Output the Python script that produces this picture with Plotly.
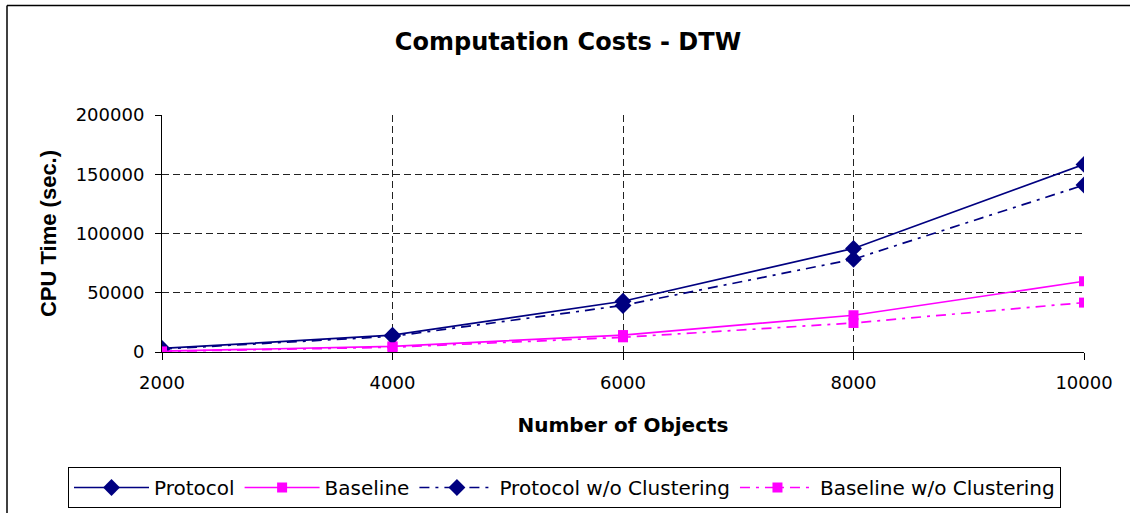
import plotly.graph_objects as go

objects = [2000, 4000, 6000, 8000, 10000]
protocol = [3000, 14200, 42800, 87400, 158300]
baseline = [700, 4800, 14300, 31000, 59700]
protocol_noclust = [2500, 13200, 39300, 78300, 140900]
baseline_noclust = [500, 4000, 12400, 24500, 41700]

x_ticks = [2000, 4000, 6000, 8000, 10000]
y_ticks = [0, 50000, 100000, 150000, 200000]

NAVY = "#000080"
MAG = "#FF00FF"
FONT = "DejaVu Sans, Liberation Sans, Arial, sans-serif"
FONT_Y = "Liberation Sans, Arial, sans-serif"

fig = go.Figure()
fig.add_trace(go.Scatter(x=objects, y=protocol, name="Protocol", mode="lines+markers",
                         line=dict(color=NAVY, width=1.7),
                         marker=dict(symbol="diamond", size=13, color=NAVY)))
fig.add_trace(go.Scatter(x=objects, y=baseline, name="Baseline", mode="lines+markers",
                         line=dict(color=MAG, width=1.7),
                         marker=dict(symbol="square", size=10, color=MAG)))
fig.add_trace(go.Scatter(x=objects, y=protocol_noclust, name="Protocol w/o Clustering", mode="lines+markers",
                         line=dict(color=NAVY, width=1.7, dash="10px,6px,3px,6px"),
                         marker=dict(symbol="diamond", size=13, color=NAVY)))
fig.add_trace(go.Scatter(x=objects, y=baseline_noclust, name="Baseline w/o Clustering", mode="lines+markers",
                         line=dict(color=MAG, width=1.7, dash="10px,6px,3px,6px"),
                         marker=dict(symbol="square", size=10, color=MAG)))

L, R, T, B = 162, 1084, 115, 352
W, H = 1130, 513

def px(xp):
    return (xp - L) / (R - L)

def py(yp):
    return (B - yp) / (B - T)

fig.update_layout(
    width=W, height=H,
    margin=dict(l=L, r=W - R, t=T, b=H - B, autoexpand=False),
    paper_bgcolor="white", plot_bgcolor="white",
    font=dict(family=FONT, size=18, color="black"),
    title=dict(text="<b>Computation Costs - DTW</b>", x=568 / W, xanchor="center",
               y=1 - 42 / H, yanchor="middle", font=dict(size=24, family=FONT)),
    showlegend=True,
    legend=dict(orientation="h", x=px(68), xanchor="left", y=py(467), yanchor="top",
                bordercolor="black", borderwidth=1, bgcolor="white", itemwidth=75,
                font=dict(size=20, family=FONT)),
    xaxis=dict(range=[2000, 10000], tickvals=x_ticks, ticktext=[str(v) for v in x_ticks],
               showgrid=True, gridcolor="#222222", griddash="7px,4px", gridwidth=1,
               showline=True, linecolor="black", linewidth=1,
               ticks="outside", ticklen=7, tickcolor="black",
               zeroline=False, tickfont=dict(size=18, family=FONT), ticklabelstandoff=7,
               title=dict(text="<b>Number of Objects</b>", font=dict(size=20, family=FONT), standoff=26)),
    yaxis=dict(range=[0, 200000], tickvals=y_ticks, ticktext=[str(v) for v in y_ticks],
               showgrid=True, gridcolor="#222222", griddash="7px,4px", gridwidth=1,
               showline=True, linecolor="black", linewidth=1,
               ticks="outside", ticklen=6, tickcolor="black",
               zeroline=False, tickfont=dict(size=18, family=FONT), ticklabelstandoff=7,
               title=dict(text="<b>CPU Time (sec.)</b>", font=dict(size=22, family=FONT_Y), standoff=12)),
)

# outer chart frame (top and left edges visible)
fig.add_shape(type="line", xref="paper", yref="paper", x0=px(7), x1=px(W + 5), y0=py(5.5), y1=py(5.5),
              line=dict(color="black", width=1.5))
fig.add_shape(type="line", xref="paper", yref="paper", x0=px(7), x1=px(7), y0=py(5.5), y1=py(H + 5),
              line=dict(color="black", width=1.5))

fig.write_html("out.html")
